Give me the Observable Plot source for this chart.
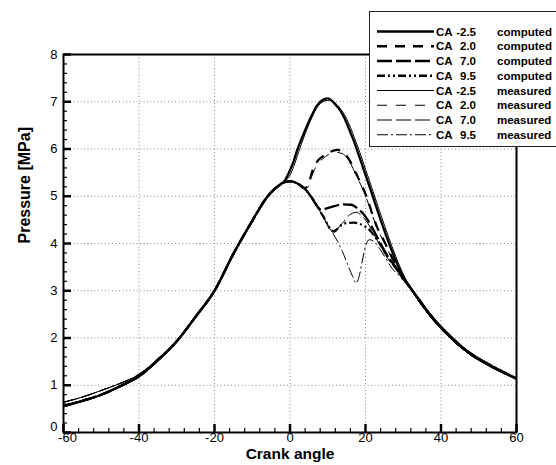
<!DOCTYPE html>
<html>
<head>
<meta charset="utf-8">
<script src="https://cdn.jsdelivr.net/npm/d3@7"></script>
<script src="https://cdn.jsdelivr.net/npm/@observablehq/plot@0.6"></script>
<style>
  html, body { margin: 0; padding: 0; background: #fff; }
  #wrap { position: relative; width: 556px; height: 465px; overflow: hidden; }
  #wrap > svg { position: absolute; left: 0; top: 0; }
</style>
</head>
<body>
<div id="wrap"></div>
<script>
// ---------- tick labels ----------
const xTicks = [-60, -40, -20, 0, 20, 40, 60];
const yTicks = [0, 1, 2, 3, 4, 5, 6, 7, 8];

// ---------- compression stroke (shared before ignition) ----------
const compressionAngle    = [-60, -55, -50, -45, -40, -35, -30, -25, -20, -15, -10, -6, -4, -2];
const compressionComputed = [0.56, 0.67, 0.80, 0.98, 1.19, 1.53, 1.93, 2.45, 3.00, 3.78, 4.48, 4.99, 5.16, 5.28];
const compressionMeasured = [0.64, 0.75, 0.89, 1.04, 1.23, 1.56, 1.95, 2.46, 3.01, 3.78, 4.48, 4.98, 5.15, 5.27];

// ---------- expansion tail (shared after combustion) ----------
const tailAngle    = [32, 34, 36, 38, 40, 42, 44, 46, 48, 50, 52, 55, 58, 60];
const tailComputed = [3.05, 2.83, 2.61, 2.41, 2.23, 2.07, 1.92, 1.78, 1.66, 1.56, 1.47, 1.34, 1.22, 1.14];
const tailMeasured = [3.04, 2.79, 2.57, 2.37, 2.19, 2.03, 1.88, 1.75, 1.63, 1.53, 1.44, 1.31, 1.20, 1.12];

// ---------- combustion part of each series ----------
const angleM25c    = [-1.5, 0, 1, 2, 3, 4, 5, 6, 7, 8, 9, 10, 11, 12, 13, 14, 15, 16, 17, 18, 19, 20, 21, 22, 23, 24, 25, 26, 27, 28, 29, 30];
const pressureM25c = [5.32, 5.55, 5.75, 6.00, 6.20, 6.40, 6.58, 6.75, 6.90, 7.00, 7.05, 7.07, 7.03, 6.94, 6.85, 6.72, 6.55, 6.35, 6.15, 5.92, 5.69, 5.45, 5.22, 4.98, 4.74, 4.50, 4.27, 4.05, 3.84, 3.64, 3.46, 3.30];

const angleM25m    = [-1.5, 0, 1, 2, 3, 4, 5, 6, 7, 8, 9, 10, 11, 12, 13, 14, 15, 16, 17, 18, 19, 20, 21, 22, 23, 24, 25, 26, 27, 28, 29, 30];
const pressureM25m = [5.30, 5.45, 5.63, 5.87, 6.10, 6.32, 6.52, 6.70, 6.86, 6.96, 7.01, 7.03, 7.02, 6.97, 6.89, 6.78, 6.64, 6.46, 6.25, 6.04, 5.81, 5.57, 5.34, 5.10, 4.86, 4.62, 4.39, 4.16, 3.94, 3.73, 3.53, 3.35];

const angle20c    = [-1, 0, 2, 3.8, 5, 5.6, 6.9, 8.6, 10.4, 12.6, 13.9, 15.7, 17.5, 19.2, 20.6, 21.9, 23.2, 25, 26, 27, 28, 29, 30];
const pressure20c = [5.31, 5.32, 5.27, 5.17, 5.25, 5.45, 5.70, 5.84, 5.93, 5.98, 5.94, 5.77, 5.48, 5.20, 4.92, 4.60, 4.32, 4.04, 3.87, 3.71, 3.56, 3.42, 3.28];

const angle20m    = [-1, 0, 2, 3.8, 5, 5.6, 6.9, 8.6, 10.4, 12, 13.9, 15.7, 17.5, 19.2, 20.6, 21.9, 23.2, 25, 26, 27, 28, 29, 30];
const pressure20m = [5.30, 5.31, 5.26, 5.16, 5.22, 5.38, 5.63, 5.79, 5.89, 5.93, 5.90, 5.74, 5.45, 5.16, 4.88, 4.58, 4.30, 4.02, 3.85, 3.68, 3.52, 3.37, 3.23];

const angle70c    = [-1, 0, 2, 3.8, 5.6, 7.3, 8.2, 9.5, 11.7, 13.9, 16.2, 17.9, 19.7, 21.4, 22.8, 24.5, 26, 28, 30];
const pressure70c = [5.31, 5.32, 5.27, 5.17, 4.99, 4.78, 4.71, 4.74, 4.79, 4.83, 4.82, 4.74, 4.60, 4.39, 4.18, 3.92, 3.72, 3.50, 3.27];

const angle70m    = [-1, 0, 2, 3.8, 5.6, 7.3, 9.1, 10.9, 12.2, 13.9, 15.7, 17.5, 19.2, 20.6, 22.3, 24.5, 26, 28, 30];
const pressure70m = [5.30, 5.31, 5.26, 5.16, 4.98, 4.77, 4.52, 4.28, 4.30, 4.43, 4.60, 4.66, 4.57, 4.43, 4.18, 3.87, 3.67, 3.46, 3.23];

const angle95c    = [-1, 0, 2, 3.8, 5.6, 7.3, 9.1, 10.9, 11.7, 13.1, 14.8, 17.0, 19.2, 21.0, 22.8, 24.5, 26, 28, 30];
const pressure95c = [5.31, 5.32, 5.27, 5.17, 4.99, 4.78, 4.53, 4.29, 4.25, 4.36, 4.43, 4.44, 4.39, 4.29, 4.11, 3.91, 3.70, 3.49, 3.26];

const angle95m    = [-1, 0, 2, 3.8, 5.6, 7.3, 9.1, 10.9, 12.6, 13.9, 15.3, 16.6, 17.5, 18.3, 19.2, 20.1, 21.0, 22.3, 23.7, 25.4, 27, 28.5, 30];
const pressure95m = [5.30, 5.31, 5.26, 5.16, 4.98, 4.77, 4.52, 4.28, 4.04, 3.83, 3.55, 3.30, 3.16, 3.30, 3.65, 3.97, 4.08, 4.04, 3.90, 3.68, 3.48, 3.35, 3.22];

// ---------- legend text ----------
const seriesCA   = ["-2.5", "2.0", "7.0", "9.5", "-2.5", "2.0", "7.0", "9.5"];
const seriesKind = ["computed", "computed", "computed", "computed", "measured", "measured", "measured", "measured"];

// ---------- build rows ----------
function rows(name, aMid, pMid, measured) {
  const out = [];
  const cp = measured ? compressionMeasured : compressionComputed;
  const tp = measured ? tailMeasured : tailComputed;
  compressionAngle.forEach((a, i) => out.push({series: name, angle: a, pressure: cp[i]}));
  aMid.forEach((a, i) => out.push({series: name, angle: a, pressure: pMid[i]}));
  tailAngle.forEach((a, i) => out.push({series: name, angle: a, pressure: tp[i]}));
  return out;
}
const seriesData = [
  rows("CA -2.5 computed", angleM25c, pressureM25c, false),
  rows("CA 2.0 computed", angle20c, pressure20c, false),
  rows("CA 7.0 computed", angle70c, pressure70c, false),
  rows("CA 9.5 computed", angle95c, pressure95c, false),
  rows("CA -2.5 measured", angleM25m, pressureM25m, true),
  rows("CA 2.0 measured", angle20m, pressure20m, true),
  rows("CA 7.0 measured", angle70m, pressure70m, true),
  rows("CA 9.5 measured", angle95m, pressure95m, true)
];

// styles (not data)
const styles = [
  {w: 2.3, dash: null},
  {w: 2.3, dash: "10,8"},
  {w: 2.3, dash: "15,4"},
  {w: 2.3, dash: "8,3,2,3,2,3"},
  {w: 1.0, dash: null},
  {w: 1.0, dash: "10,9"},
  {w: 1.0, dash: "15,4"},
  {w: 1.0, dash: "11,3,2,3"}
];

const W = 556, H = 465, ML = 63, MR = 40, MT = 54, MB = 33;
const xDomain = [-60, 60], yDomain = [0, 8];
const pxPerX = (W - ML - MR) / (xDomain[1] - xDomain[0]);
const pxPerY = (H - MT - MB) / (yDomain[1] - yDomain[0]);
const majorLen = 8, minorLen = 4;   // tick lengths in pixels

const xMinor = d3.range(-60, 61, 4).filter(v => v % 20 !== 0);
const yMinor = d3.range(0, 8.001, 0.2).map(v => +v.toFixed(1)).filter(v => Math.abs(v - Math.round(v)) > 1e-6);

const lineMarks = seriesData.map((d, i) => Plot.line(d, {
  x: "angle", y: "pressure", curve: "monotone-x",
  stroke: "#000", strokeWidth: styles[i].w,
  strokeDasharray: styles[i].dash || undefined,
  strokeLinecap: "butt", strokeLinejoin: "round"
}));

const fmt = d => String(d);

const chart = Plot.plot({
  width: W,
  height: H,
  marginLeft: ML,
  marginRight: MR,
  marginTop: MT,
  marginBottom: MB,
  x: {domain: xDomain},
  y: {domain: yDomain},
  style: {fontFamily: "'Liberation Sans', Arial, sans-serif", fontSize: "13px", color: "#000", background: "#fff", overflow: "visible"},
  marks: [
    Plot.ruleX(xTicks.slice(1, -1), {x: d => d, stroke: "#8a8a8a", strokeWidth: 1, strokeDasharray: "1,2.5"}),
    Plot.ruleY(yTicks.slice(1, -1), {y: d => d, stroke: "#8a8a8a", strokeWidth: 1, strokeDasharray: "1,2.5"}),
    ...lineMarks,
    Plot.frame({stroke: "#000", strokeWidth: 2}),
    // inward ticks
    Plot.ruleX(xMinor, {x: d => d, y1: yDomain[0], y2: yDomain[0] + minorLen / pxPerY, stroke: "#000", strokeWidth: 1.2}),
    Plot.ruleX(xTicks, {x: d => d, y1: yDomain[0], y2: yDomain[0] + majorLen / pxPerY, stroke: "#000", strokeWidth: 2.5}),
    Plot.ruleY(yMinor, {y: d => d, x1: xDomain[0], x2: xDomain[0] + minorLen / pxPerX, stroke: "#000", strokeWidth: 1.2}),
    Plot.ruleY(yTicks, {y: d => d, x1: xDomain[0], x2: xDomain[0] + majorLen / pxPerX, stroke: "#000", strokeWidth: 2.5}),
    // tick labels
    Plot.axisX(xTicks.slice(0, 1), {tickSize: 0, tickPadding: 0, dx: 4, label: null, fontSize: 13, tickFormat: fmt}),
    Plot.axisX(xTicks.slice(1), {tickSize: 0, tickPadding: 0, label: null, fontSize: 13, tickFormat: fmt}),
    Plot.axisY(yTicks.slice(0, 1), {tickSize: 0, tickPadding: 6, dy: -6, label: null, fontSize: 13, tickFormat: fmt}),
    Plot.axisY(yTicks.slice(1), {tickSize: 0, tickPadding: 6, label: null, fontSize: 13, tickFormat: fmt}),
    Plot.text(["Crank angle"], {text: d => d, frameAnchor: "bottom", dy: 26, fontWeight: "bold", fontSize: 15.5}),
    Plot.text(["Pressure [MPa]"], {text: d => d, frameAnchor: "left", dx: -39, rotate: -90, fontWeight: "bold", fontSize: 16})
  ]
});
const wrap = document.getElementById("wrap");
wrap.appendChild(chart);

// ---------- legend overlay ----------
const ns = "http://www.w3.org/2000/svg";
const leg = document.createElementNS(ns, "svg");
leg.setAttribute("width", W);
leg.setAttribute("height", H);
leg.style.position = "absolute";
leg.style.left = "0px";
leg.style.top = "0px";
leg.style.fontFamily = "'Liberation Sans', Arial, sans-serif";
const box = document.createElementNS(ns, "rect");
box.setAttribute("x", 369.5); box.setAttribute("y", 11.5);
box.setAttribute("width", 200); box.setAttribute("height", 135);
box.setAttribute("fill", "#fff"); box.setAttribute("stroke", "#222"); box.setAttribute("stroke-width", 1);
leg.appendChild(box);
seriesCA.forEach((ca, i) => {
  const cy = 31.5 + i * 14.75;
  const ln = document.createElementNS(ns, "line");
  ln.setAttribute("x1", 377); ln.setAttribute("x2", 434);
  ln.setAttribute("y1", cy); ln.setAttribute("y2", cy);
  ln.setAttribute("stroke", "#000");
  ln.setAttribute("stroke-width", styles[i].w);
  if (styles[i].dash) ln.setAttribute("stroke-dasharray", styles[i].dash);
  leg.appendChild(ln);
  const parts = [["CA", 436, "start"], [ca, 476, "end"], [seriesKind[i], 497, "start"]];
  parts.forEach(([t, x, anchor]) => {
    const tx = document.createElementNS(ns, "text");
    tx.setAttribute("x", x); tx.setAttribute("y", cy + 4.1);
    tx.setAttribute("text-anchor", anchor);
    tx.setAttribute("font-size", 11.5);
    tx.setAttribute("font-weight", "bold");
    tx.textContent = t;
    leg.appendChild(tx);
  });
});
wrap.appendChild(leg);
</script>
</body>
</html>
